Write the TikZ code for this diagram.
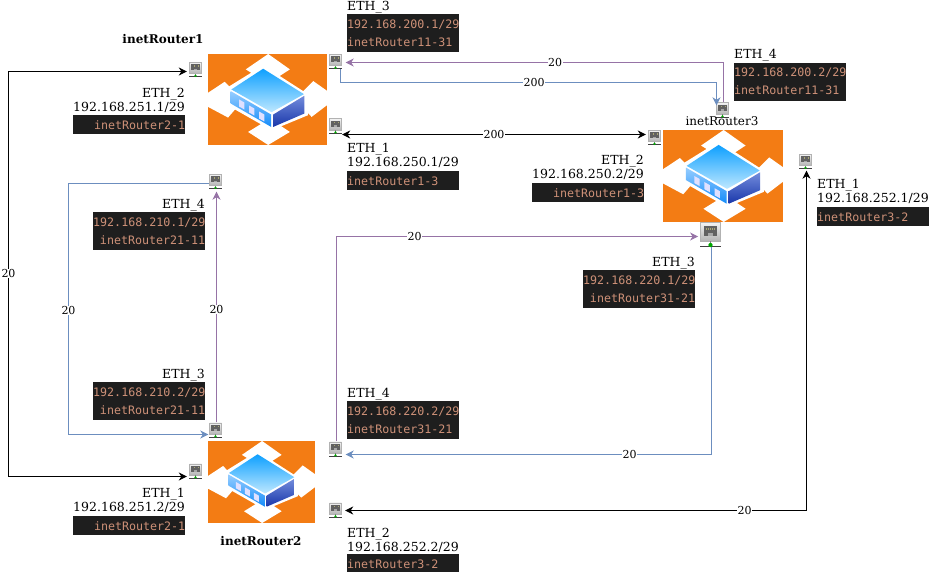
\documentclass[tikz,border=0pt]{standalone}
\usepackage{fontspec}
\setmainfont{DejaVu Serif}
\newfontfamily\dmono{DejaVu Sans Mono}
\usetikzlibrary{arrows.meta,calc}
\definecolor{vbg}{HTML}{1E1E1E}
\definecolor{vtxt}{HTML}{CE9178}
\definecolor{lpurple}{HTML}{9673A6}
\definecolor{lblue}{HTML}{6C8EBF}
\definecolor{rorange}{HTML}{F37C14}
\tikzset{
  tip/.style={-{Stealth[length=8pt,width=8pt,inset=2.5pt]}},
  dtip/.style={{Stealth[length=8pt,width=8pt,inset=2.5pt]}-{Stealth[length=8pt,width=8pt,inset=2.5pt]}},
  purplelink/.style={draw=lpurple,line width=1pt,tip},
  bluelink/.style={draw=lblue,line width=1pt,tip},
  blacklink/.style={draw=black,line width=1pt,dtip},
  linklabel/.style={fill=white,inner sep=0.5pt,font=\fontsize{11}{12}\selectfont},
  dark/.style={fill=vbg,text=vtxt,inner sep=0pt,text width=112pt,anchor=north west,font=\dmono\fontsize{11.65}{18}\selectfont},
  darkone/.style={dark,minimum height=19pt},
  darktwo/.style={dark,minimum height=38pt},
  ethl/.style={inner sep=0pt,anchor=north west,align=left,font=\fontsize{12.5}{13.7}\selectfont},
  ethr/.style={inner sep=0pt,anchor=north east,align=right,font=\fontsize{12.5}{13.7}\selectfont},
  portnode/.style={inner sep=0pt},
  routernode/.style={inner sep=0pt},
}
\newcommand{\portat}[4]{%
  \node[portnode,minimum width=#4*13pt,minimum height=#4*15pt] (#1) at (#2,#3) {};
  \begin{scope}[shift={(#2,#3)},scale=#4]
    \fill[black!75] (-6.5,6.8) rectangle (6.5,7.5);
    \shade[top color=black!5,bottom color=black!30,draw=black!30,line width=.4pt] (-6,-7.3) rectangle (6,4.2);
    \fill[black!62] (-4.2,-5) rectangle (4.2,1);
    \fill[black!35] (-1.8,-0.8) rectangle (1.8,1);
    \fill[yellow!45!black!70] (-3,-4.2) rectangle (3,-2.6);
    \foreach \q in {-2.2,-0.9,0.4,1.7} \fill[black!62] (\q,-4.2) rectangle +(0.6,1.6);
    \fill[black!50] (-0.5,4.2) rectangle (0.5,7);
    \fill[green!65!black] (0,6.4) circle (1.3);
  \end{scope}}
\newcommand{\routerat}[5]{%
  \node[routernode,minimum width=#4 pt,minimum height=#5 pt] (#1) at (#2+#4/2,#3+#5/2) {};
  \begin{scope}[shift={(#2,#3)},xscale=#4/356,yscale=#5/272,shift={(-85,-162)}]
    \fill[rorange] (85,162) rectangle (441,434);
    \fill[white] (198,208) -- (265,162) -- (330,208) -- (265,250) -- cycle;
    \fill[white] (205,395) -- (270,355) -- (330,395) -- (265,434) -- cycle;
    \fill[white] (85,278) -- (135,245) -- (190,300) -- (145,352) -- (85,320) -- cycle;
    \fill[white] (441,272) -- (400,243) -- (345,298) -- (395,350) -- (441,315) -- cycle;
    \fill[white] (250,196) -- (384,282) -- (384,345) -- (275,390) -- (143,315) -- (143,262) -- cycle;
    \shade[top color={rgb,255:red,14;green,160;blue,255},bottom color={rgb,255:red,190;green,232;blue,255}] (250,206) -- (372,282) -- (275,336) -- (155,268) -- cycle;
    \shade[top color={rgb,255:red,150;green,205;blue,255},bottom color={rgb,255:red,20;green,140;blue,250}] (153,273) -- (274,343) -- (274,380) -- (153,310) -- cycle;
    \shade[top color={rgb,255:red,115;green,140;blue,220},bottom color={rgb,255:red,25;green,55;blue,170}] (280,343) -- (373,287) -- (373,340) -- (280,380) -- cycle;
    \foreach \wx/\wy in {178/298,208/316,238/334}
      \fill[white!88!blue] (\wx,\wy) -- ++(16,9) -- ++(0,21) -- ++(-16,-9) -- cycle;
  \end{scope}}
\begin{document}
\begin{tikzpicture}[x=1pt,y=-1pt]
\useasboundingbox (0,0) rectangle (930,572);
% routers
\routerat{rone}{208}{54}{119}{91}
\routerat{rthree}{663}{130}{120}{92}
\routerat{rtwo}{208}{441}{107}{82}
% ports
\portat{pa}{335.5}{61.5}{1}
\portat{pb}{335.5}{126}{1}
\portat{pc}{195.5}{69.5}{1}
\portat{pd}{215.5}{181.5}{1}
\portat{pe}{722.5}{110}{1}
\portat{pf}{654.5}{137.5}{1}
\portat{pg}{710.5}{234.5}{1.65}
\portat{ph}{805.5}{161.5}{1}
\portat{pi}{215.5}{430}{1}
\portat{pj}{195.5}{471}{1}
\portat{pk}{335.5}{449}{1}
\portat{pl}{335.5}{510}{1}
% waypoints
\coordinate (wa) at (340.5,82.5);
\coordinate (wb) at (716.5,82.5);
\coordinate (wc) at (723.5,62.5);
\coordinate (wd) at (8.5,71.5);
\coordinate (we) at (8.5,476.5);
\coordinate (wf) at (68.5,183.5);
\coordinate (wg) at (68.5,434.5);
\coordinate (wh) at (336.5,236.5);
\coordinate (wi) at (711.5,454.5);
\coordinate (wj) at (806.5,510.5);
\coordinate (wk) at (216.5,300);
\coordinate (wl) at (500,134.5);
% connectors
\draw[bluelink] (wa |- pa.south) -- (wa) -- node[linklabel,pos=.515]{200} (wb) -- ($(wb |- pe.north)+(0,3)$);
\draw[purplelink] (wc |- pe.north) -- (wc) -- node[linklabel,pos=.446]{20} ($(wc -| pa.east)+(3.5,0)$);
\draw[blacklink] (pb.east |- wl) -- node[linklabel,pos=.5]{200} ($(pf.west |- wl)+(-2,0)$);
\draw[blacklink] ($(wd -| pc.west)+(-2,0)$) -- (wd) -- node[linklabel,pos=.499]{20} (we) -- ($(we -| pj.west)+(-2,0)$);
\draw[bluelink] (wf -| pd.west) -- (wf) -- node[linklabel,pos=.506]{20} (wg) -- ($(wg -| pi.west)+(-.5,0)$);
\draw[purplelink] (wk |- pi.north) -- node[linklabel,pos=.49]{20} ($(wk |- pd.south)+(0,2.5)$);
\draw[purplelink] (wh |- pk.north) -- (wh) -- node[linklabel,pos=.216]{20} ($(wh -| pg.west)+(-1.5,0)$);
\draw[bluelink] (wi |- pg.south) -- (wi) -- node[linklabel,pos=.224]{20} ($(wi -| pk.east)+(3.5,0)$);
\draw[blacklink] ($(wj -| pl.east)+(3,0)$) -- node[linklabel,pos=.866]{20} (wj) -- ($(wj |- ph.south)+(0,1.5)$);
% router names
\node[inner sep=0pt,font=\bfseries\fontsize{12}{14}\selectfont] (nra) at (163,39.5) {inetRouter1};
\node[inner sep=0pt,font=\bfseries\fontsize{12}{14}\selectfont] (nrb) at (261,541.5) {inetRouter2};
\node[inner sep=0pt,font=\fontsize{12}{14}\selectfont] (nrc) at (722,121.5) {inetRouter3};
% R1 ETH_3
\node[ethl] (ta) at (347,1.5) {ETH\_3};
\node[darktwo,align=left] (da) at (347,14) {192.168.200.1/29\\inetRouter11-31};
% R3 ETH_4
\node[ethl] (tb) at (734,49.5) {ETH\_4};
\node[darktwo,align=left] (db) at (734,62.5) {192.168.200.2/29\\inetRouter11-31};
% R1 ETH_2
\node[ethr] (tc) at (185,88.5) {ETH\_2\\192.168.251.1/29};
\node[darkone,align=right] (dc) at (73,115) {inetRouter2-1};
% R1 ETH_1
\node[ethl] (td) at (347,143.5) {ETH\_1\\192.168.250.1/29};
\node[darkone,align=left] (dd) at (347,171) {inetRouter1-3};
% R1 ETH_4
\node[ethr] (te) at (205,199.5) {ETH\_4};
\node[darktwo,align=right] (de) at (93,212) {192.168.210.1/29\\inetRouter21-11};
% R3 ETH_2
\node[ethr] (tf) at (644,155.5) {ETH\_2\\192.168.250.2/29};
\node[darkone,align=right] (df) at (532,183) {inetRouter1-3};
% R3 ETH_1
\node[ethl] (tg) at (817,179.5) {ETH\_1\\192.168.252.1/29};
\node[darkone,align=left] (dg) at (817,207) {inetRouter3-2};
% R3 ETH_3
\node[ethr] (th) at (695,257.5) {ETH\_3};
\node[darktwo,align=right] (dh) at (583,270) {192.168.220.1/29\\inetRouter31-21};
% R2 ETH_3
\node[ethr] (ti) at (205,369.5) {ETH\_3};
\node[darktwo,align=right] (di) at (93,382) {192.168.210.2/29\\inetRouter21-11};
% R2 ETH_1
\node[ethr] (tj) at (185,488.5) {ETH\_1\\192.168.251.2/29};
\node[darkone,align=right] (dj) at (73,516) {inetRouter2-1};
% R2 ETH_4
\node[ethl] (tk) at (347,388.5) {ETH\_4};
\node[darktwo,align=left] (dk) at (347,401) {192.168.220.2/29\\inetRouter31-21};
% R2 ETH_2
\node[ethl] (tl) at (347,528.5) {ETH\_2\\192.168.252.2/29};
\node[darkone,align=left] (dl) at (347,554) {inetRouter3-2};
\end{tikzpicture}
\end{document}
